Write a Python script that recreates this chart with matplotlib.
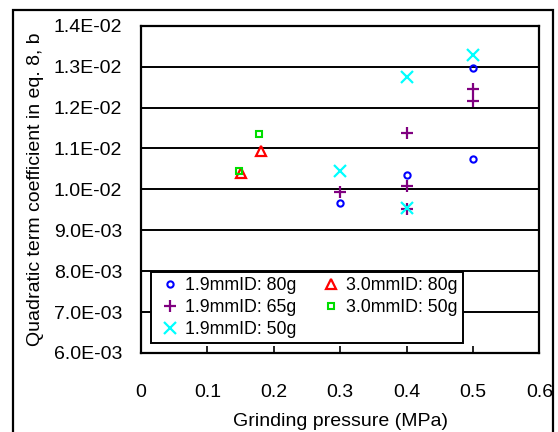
"""Quadratic term coefficient b vs grinding pressure, per mill ID / ball mass."""

import matplotlib

matplotlib.use("Agg")
import matplotlib.pyplot as plt
from matplotlib.patches import Rectangle
from matplotlib.ticker import FuncFormatter

plt.rcParams["font.family"] = ["Liberation Sans", "DejaVu Sans"]

# --- data ------------------------------------------------------------------
p_19_80 = [0.3, 0.4, 0.5, 0.5]
b_19_80 = [9.66e-3, 1.036e-2, 1.074e-2, 1.296e-2]

p_19_65 = [0.3, 0.4, 0.4, 0.4, 0.5, 0.5]
b_19_65 = [9.93e-3, 9.53e-3, 1.007e-2, 1.138e-2, 1.216e-2, 1.245e-2]

p_19_50 = [0.3, 0.4, 0.4, 0.5]
b_19_50 = [1.046e-2, 9.55e-3, 1.275e-2, 1.328e-2]

p_30_80 = [0.151, 0.181]
b_30_80 = [1.039e-2, 1.093e-2]

p_30_50 = [0.147, 0.177]
b_30_50 = [1.046e-2, 1.136e-2]

x_ticks = [0, 0.1, 0.2, 0.3, 0.4, 0.5, 0.6]
y_ticks = [6e-3, 7e-3, 8e-3, 9e-3, 1.0e-2, 1.1e-2, 1.2e-2, 1.3e-2, 1.4e-2]


def sci_label(v, _pos=None):
    # Excel-style "1.4E-02"
    mant, exp = f"{v:.1E}".split("E")
    return f"{mant}E{exp[0]}{abs(int(exp)):02d}"


fig = plt.figure(figsize=(5.58, 4.32), dpi=100)
ax = fig.add_axes([0.2527, 0.1829, 0.7141, 0.7576])

# outer chart-area frame (bottom edge sits below the image)
fig.patches.append(
    Rectangle((0.0233, -0.1), 0.9677, 1.0769, transform=fig.transFigure,
              fill=False, edgecolor="black", linewidth=1.6)
)

ax.set_xlim(0, 0.6)
ax.set_ylim(6e-3, 1.4e-2)
ax.set_xticks(x_ticks)
ax.set_yticks(y_ticks)
ax.xaxis.set_major_formatter(FuncFormatter(lambda v, _p: f"{v:g}"))
ax.yaxis.set_major_formatter(FuncFormatter(sci_label))
ax.tick_params(axis="x", direction="in", length=5, width=1.2, pad=22, labelsize=14)
ax.tick_params(axis="y", direction="out", length=1, width=1.2, pad=12.5, labelsize=14)
ax.grid(axis="y", color="black", linewidth=1.4)
ax.set_axisbelow(True)
for s in ax.spines.values():
    s.set_linewidth(1.6)

common = dict(linestyle="none", markerfacecolor="none")
ax.plot(p_19_80, b_19_80, marker="o", color="#0000FF", markersize=4.5,
        markeredgewidth=1.5, label="1.9mmID: 80g", **common)
ax.plot(p_19_65, b_19_65, marker="+", color="#800080", markersize=9,
        markeredgewidth=1.6, label="1.9mmID: 65g", **common)
ax.plot(p_19_50, b_19_50, marker="x", color="#00FFFF", markersize=8,
        markeredgewidth=1.6, label="1.9mmID: 50g", **common)
ax.plot(p_30_80, b_30_80, marker="^", color="#FF0000", markersize=6.5,
        markeredgewidth=1.6, label="3.0mmID: 80g", **common)
ax.plot(p_30_50, b_30_50, marker="s", color="#00DD00", markersize=4,
        markeredgewidth=1.5, label="3.0mmID: 50g", **common)

leg = ax.legend(loc="lower left", bbox_to_anchor=(0.025, 0.03), ncol=2,
                fontsize=12.8, frameon=True, fancybox=False, framealpha=1,
                edgecolor="black", handlelength=1.5, handletextpad=0.1,
                columnspacing=1.2, labelspacing=0.28, borderpad=0.3,
                borderaxespad=0)
leg.get_frame().set_linewidth(1.4)

ax.set_xlabel("Grinding pressure (MPa)", fontsize=14, labelpad=9)
ax.set_ylabel("Quadratic term coefficient in eq. 8, b", fontsize=14, labelpad=7)

fig.savefig("out.png", dpi=100)
